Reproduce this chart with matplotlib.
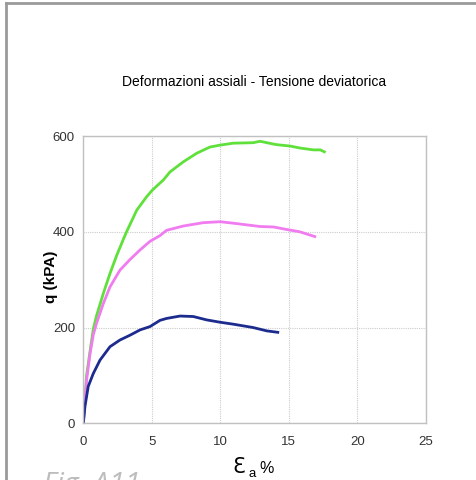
import matplotlib
matplotlib.use("Agg")
import matplotlib.pyplot as plt
from matplotlib.lines import Line2D

# strain (%) vs deviatoric stress q (kPa)
eps_green = [0, 0.24, 0.49, 0.73, 0.97, 1.46, 1.95, 2.43, 2.92, 3.16, 3.9, 4.62, 5.04,
             5.84, 6.33, 7.3, 8.28, 9.25, 10.0, 10.95, 12.4, 12.9, 13.4, 14.1, 15.1,
             15.8, 16.8, 17.3, 17.6]
q_green = [0, 100, 150, 197, 225, 271, 313, 350, 384, 400, 445, 473, 487,
           508, 525, 546, 564, 577, 581, 585, 586, 589, 586, 582, 579,
           575, 571, 571, 567]

eps_pink = [0, 0.24, 0.49, 0.73, 0.97, 1.46, 1.95, 2.68, 3.41, 4.14, 4.87, 5.6, 6.08,
            7.3, 8.76, 10.0, 11.2, 12.9, 13.9, 14.8, 15.8, 16.9]
q_pink = [0, 90, 145, 185, 209, 250, 285, 320, 342, 362, 380, 392, 403,
          412, 419, 421, 417, 411, 410, 405, 400, 390]

eps_blue = [0, 0.12, 0.36, 0.73, 1.22, 1.95, 2.68, 3.41, 4.14, 4.87, 5.6, 6.08, 7.06,
            8.03, 9.0, 10.0, 10.95, 12.4, 13.4, 14.2]
q_blue = [0, 35, 77, 104, 132, 160, 174, 184, 195, 202, 215, 219, 224,
          223, 216, 211, 207, 200, 193, 190]

plt.rcParams['font.family'] = ['Liberation Sans', 'DejaVu Sans']

fig = plt.figure(figsize=(4.76, 4.80), dpi=100)
ax = fig.add_axes([83.3 / 476, 1 - 423.3 / 480, (425.7 - 83.3) / 476, (423.3 - 136) / 480])

ax.plot(eps_green, q_green, color="#5fe03a", linewidth=2)
ax.plot(eps_pink, q_pink, color="#f07cf0", linewidth=2)
ax.plot(eps_blue, q_blue, color="#1c2b8e", linewidth=2)

ax.set_xlim(0, 25)
ax.set_ylim(0, 600)
ax.set_xticks([0, 5, 10, 15, 20, 25])
ax.set_yticks([0, 200, 400, 600])
ax.grid(True, color="#cccccc", linestyle=(0, (1, 1)), linewidth=0.8)
ax.set_axisbelow(True)
ax.tick_params(length=0, labelsize=9.5, labelcolor="#333333")
ax.tick_params(axis="x", pad=9)
ax.tick_params(axis="y", pad=6)
for s in ax.spines.values():
    s.set_color("#c0c0c0")
    s.set_linewidth(1)

ax.set_ylabel("q (kPA)", fontsize=11, fontweight="bold")
ax.yaxis.set_label_coords(-0.074, 0.509)

fig.text(254 / 476, 1 - 82 / 480, "Deformazioni assiali - Tensione deviatorica",
         ha="center", va="center", fontsize=10)

# x label: epsilon_a %
fig.text(232 / 476, 1 - 473 / 480, "\u0190", fontsize=15, family="DejaVu Sans",
         ha="left", va="baseline")
fig.text(248 / 476, 1 - 477 / 480, "a", fontsize=9.5, ha="left", va="baseline")
fig.text(259 / 476, 1 - 473 / 480, "%", fontsize=11.5, ha="left", va="baseline")

fig.text(43 / 476, -12 / 480, "Fig. A11", fontsize=20.5, style="italic", color="#bdbdbd",
         family="Open Sans", ha="left", va="baseline")

# frame of the page
fig.add_artist(Line2D([6 / 476, 6 / 476], [0, 1 - 3 / 480], color="#9a9a9a", linewidth=2))
fig.add_artist(Line2D([6 / 476, 1], [1 - 3 / 480, 1 - 3 / 480], color="#9a9a9a", linewidth=2))

fig.savefig("out.png", dpi=100)
